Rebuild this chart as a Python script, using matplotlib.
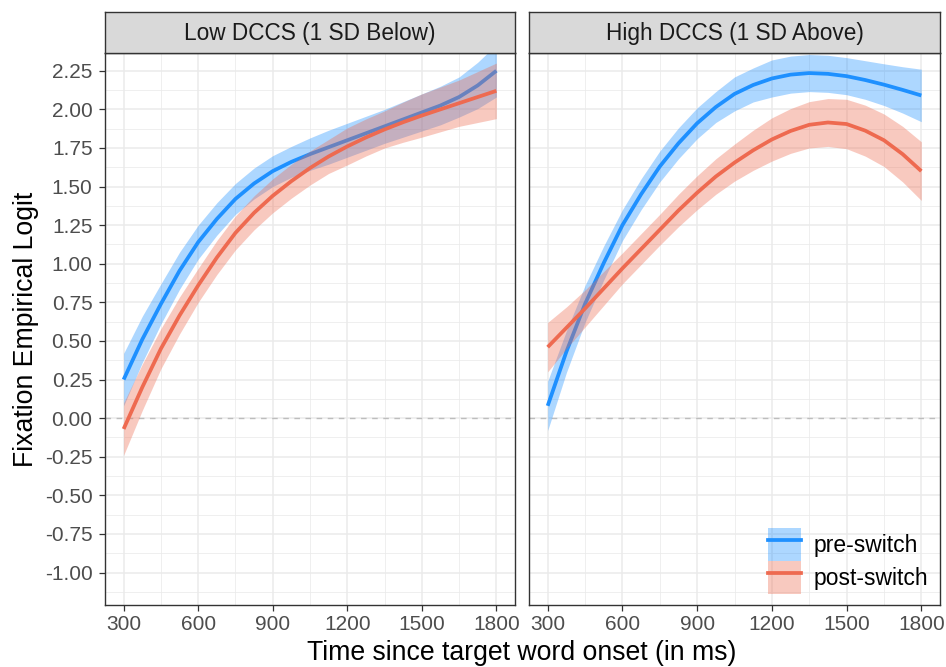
import matplotlib.pyplot as plt
import numpy as np
from matplotlib.lines import Line2D
from matplotlib.patches import Patch

plt.rcParams['font.family'] = ['Liberation Sans', 'DejaVu Sans']

# smoothed fits (empirical logit) with confidence half-widths, every 75 ms
time_ms = [300, 375, 450, 525, 600, 675, 750, 825, 900, 975, 1050,
           1125, 1200, 1275, 1350, 1425, 1500, 1575, 1650, 1725, 1800]

low_pre = [0.25, 0.51, 0.74, 0.955, 1.14, 1.29, 1.42, 1.52, 1.60, 1.66, 1.71,
           1.755, 1.80, 1.845, 1.89, 1.935, 1.98, 2.025, 2.08, 2.155, 2.25]
low_pre_ci = [0.17, 0.15, 0.13, 0.12, 0.11, 0.105, 0.10, 0.10, 0.10, 0.10, 0.105,
              0.11, 0.11, 0.11, 0.11, 0.115, 0.12, 0.125, 0.13, 0.15, 0.17]
low_post = [-0.07, 0.20, 0.45, 0.665, 0.86, 1.04, 1.20, 1.33, 1.44, 1.535, 1.62,
            1.695, 1.76, 1.818, 1.87, 1.917, 1.96, 2.00, 2.04, 2.08, 2.12]
low_post_ci = [0.17, 0.15, 0.13, 0.12, 0.11, 0.11, 0.11, 0.11, 0.11, 0.11, 0.11,
               0.11, 0.12, 0.12, 0.12, 0.13, 0.14, 0.145, 0.15, 0.165, 0.18]

high_pre = [0.08, 0.43, 0.74, 1.005, 1.25, 1.45, 1.63, 1.78, 1.91, 2.015, 2.10,
            2.158, 2.20, 2.225, 2.235, 2.23, 2.215, 2.19, 2.16, 2.126, 2.09]
high_pre_ci = [0.16, 0.135, 0.12, 0.11, 0.10, 0.10, 0.10, 0.10, 0.10, 0.10, 0.11,
               0.11, 0.12, 0.12, 0.12, 0.12, 0.12, 0.125, 0.135, 0.15, 0.17]
high_post = [0.46, 0.585, 0.71, 0.84, 0.97, 1.095, 1.22, 1.345, 1.46, 1.565, 1.655,
             1.735, 1.805, 1.86, 1.90, 1.915, 1.905, 1.862, 1.80, 1.71, 1.60]
high_post_ci = [0.16, 0.135, 0.12, 0.11, 0.10, 0.10, 0.10, 0.105, 0.11, 0.115, 0.12,
                0.13, 0.14, 0.145, 0.15, 0.155, 0.16, 0.165, 0.17, 0.18, 0.19]

panel_titles = ['Low DCCS (1 SD Below)', 'High DCCS (1 SD Above)']
groups = ['pre-switch', 'post-switch']
colors = ['#1E90FF', '#EE6A50']

x_ticks = [300, 600, 900, 1200, 1500, 1800]
y_ticks = np.arange(-1.0, 2.26, 0.25)

panels = [
    [(low_pre, low_pre_ci), (low_post, low_post_ci)],
    [(high_pre, high_pre_ci), (high_post, high_post_ci)],
]

W, H = 946, 667
fig = plt.figure(figsize=(W / 100, H / 100), dpi=100)

panel_boxes = [(105, 515), (529, 940)]
top, bottom = 53, 605
strip_top = 12
line_w = 2.7

t = np.array(time_ms)
for i, (x0, x1) in enumerate(panel_boxes):
    ax = fig.add_axes([x0 / W, 1 - bottom / H, (x1 - x0) / W, (bottom - top) / H])
    ax.set_xlim(225, 1875)
    ax.set_ylim(-1.21, 2.365)
    ax.set_xticks(x_ticks)
    ax.set_xticks(np.arange(450, 1800, 300), minor=True)
    ax.set_yticks(y_ticks)
    ax.set_yticks(np.arange(-1.125, 2.3, 0.25), minor=True)
    ax.grid(which='major', color='#ebebeb', lw=1.1, zorder=0)
    ax.grid(which='minor', color='#ebebeb', lw=0.55, zorder=0)
    ax.set_axisbelow(True)
    ax.axhline(0, color='#bdbdbd', lw=1.0, ls=(0, (4, 4)), zorder=1)

    for (fit, ci), col in zip(panels[i], colors):
        fit = np.array(fit)
        ci = np.array(ci)
        ax.fill_between(t, fit - ci, fit + ci, color=col, alpha=0.36, lw=0, zorder=2)
        ax.plot(t, fit, color=col, lw=line_w, zorder=2, solid_capstyle='butt')

    for s in ax.spines.values():
        s.set_color('#333333')
        s.set_linewidth(1.0)
    ax.tick_params(which='major', length=4.5, width=0.9, color='#333333',
                   labelsize=15, labelcolor='#4d4d4d')
    ax.tick_params(axis='x', pad=2.6)
    ax.tick_params(axis='y', pad=4.5)
    ax.tick_params(which='minor', length=0)
    ax.set_yticklabels([f'{v:.2f}' for v in y_ticks])
    if i == 1:
        ax.tick_params(axis='y', which='major', length=0, labelleft=False)

    # facet strip
    sax = fig.add_axes([x0 / W, 1 - top / H, (x1 - x0) / W, (top - strip_top) / H])
    sax.set_xlim(0, 1)
    sax.set_ylim(0, 1)
    sax.set_xticks([])
    sax.set_yticks([])
    sax.set_facecolor('#d9d9d9')
    for s in sax.spines.values():
        s.set_color('#333333')
        s.set_linewidth(1.0)
    sax.text(0.5, 0.47, panel_titles[i], ha='center', va='center',
             fontsize=16.3, color='#1a1a1a')

fig.text(522 / W, 1 - 660 / H, 'Time since target word onset (in ms)',
         ha='center', va='baseline', fontsize=19.2, color='black')
fig.text(33 / W, 1 - 329 / H, 'Fixation Empirical Logit', ha='center', va='baseline',
         rotation=90, rotation_mode='anchor', fontsize=19.2, color='black')

handles = []
for col in colors:
    handles.append((Patch(facecolor=col, alpha=0.36, edgecolor='none'),
                    Line2D([], [], color=col, lw=line_w)))
fs = 16.5
fs_px = fs * 100 / 72
key_px = 33
key_h = (key_px / fs_px - 0.245) / 0.65
leg = fig.legend(handles, groups, loc='lower left',
                 bbox_to_anchor=(768 / W, 1 - 594 / H), frameon=False,
                 fontsize=fs, handlelength=key_px / fs_px,
                 handleheight=key_h, labelspacing=0,
                 borderpad=0, borderaxespad=0, handletextpad=0.55)

fig.savefig('out.png', dpi=100)
